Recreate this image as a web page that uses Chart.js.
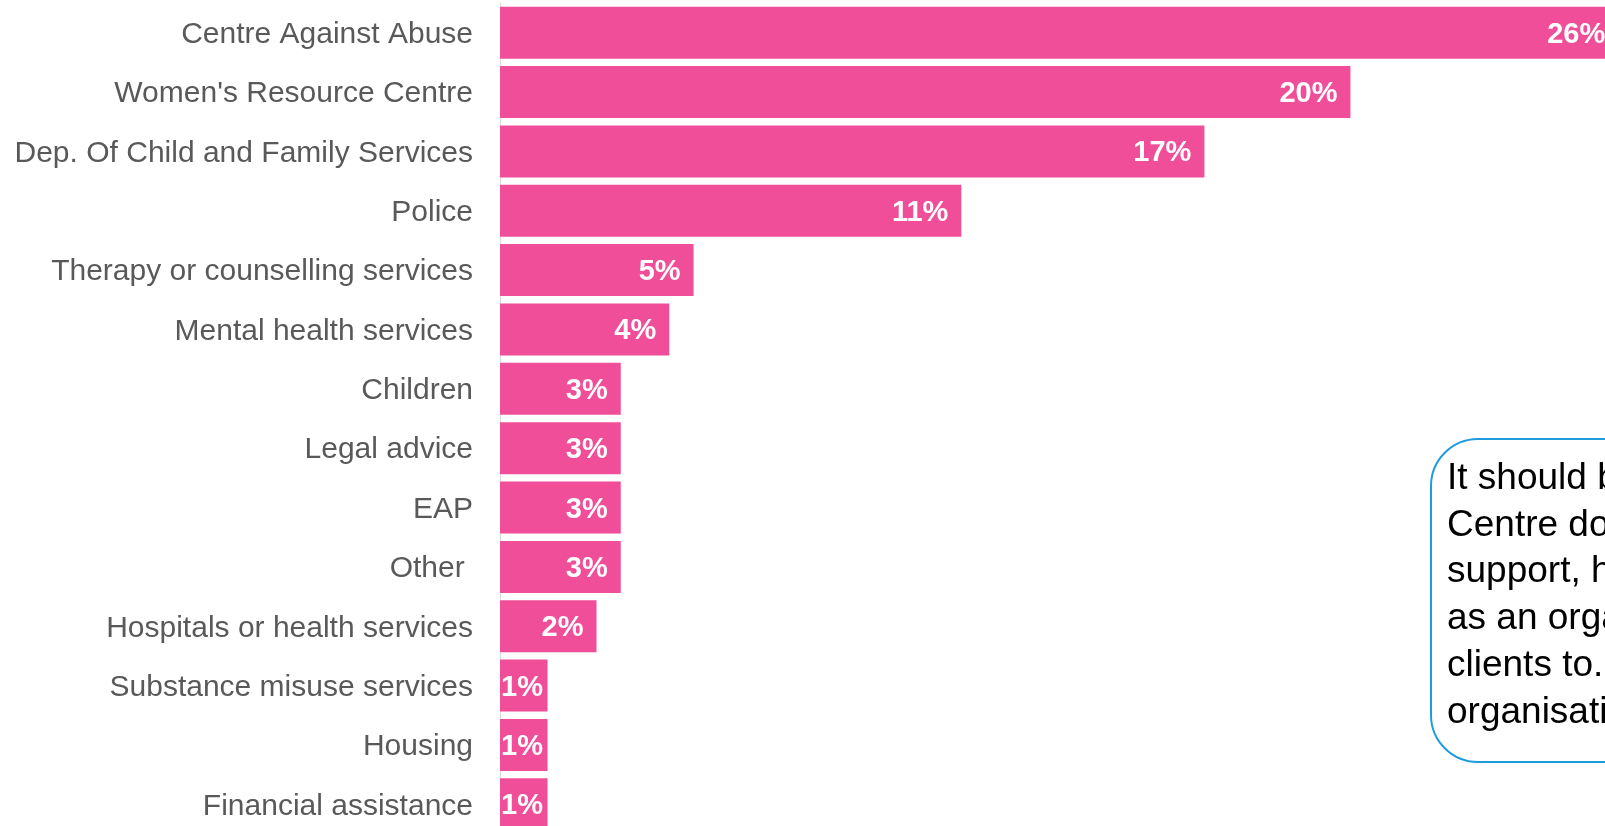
<!DOCTYPE html>
<html>
<head>
<meta charset="utf-8">
<title>Referral organisations</title>
<script src="https://cdn.jsdelivr.net/npm/chart.js@4/dist/chart.umd.min.js"></script>
<style>
    html, body {
        margin: 0;
        padding: 0;
        background: #ffffff;
        overflow: hidden;
    }
    #wrap {
        position: relative;
        width: 1692px;
        height: 834px;
    }
    #nota {
        position: absolute;
        left: 1430px;
        top: 438px;
        width: 330px;
        height: 295px;
        border: 2px solid #1f9bde;
        border-radius: 48px;
        padding: 14px 0 12px 15px;
        font-family: "Liberation Sans", Arial, sans-serif;
        font-size: 37px;
        line-height: 46.7px;
        color: #000000;
        white-space: nowrap;
        background: #ffffff;
    }
</style>
</head>
<body>
<div id="wrap">
    <canvas id="referenciasChart" width="1692" height="834"></canvas>
    <div id="nota">It should be noted that the<br>Centre does not provide<br>support, however it was listed<br>as an organisation they refer<br>clients to.<br>organisations</div>
</div>

<script>
// Organisations and share of respondents (%)
const categorias = [
    'Centre Against Abuse',
    "Women's Resource Centre",
    'Dep. Of Child and Family Services',
    'Police',
    'Therapy or counselling services',
    'Mental health services',
    'Children',
    'Legal advice',
    'EAP',
    'Other ',
    'Hospitals or health services',
    'Substance misuse services',
    'Housing',
    'Financial assistance'
];
const porcentajes = [26.29, 20.0, 16.57, 10.86, 4.57, 4.0, 2.86, 2.86, 2.86, 2.86, 2.29, 1.14, 1.14, 1.14];
const ejeMax = 28;

// Etiquetas blancas dentro de cada barra, pegadas al extremo
const etiquetasBarras = {
    id: 'etiquetasBarras',
    afterDatasetsDraw(chart) {
        const ctx = chart.ctx;
        const meta = chart.getDatasetMeta(0);
        ctx.save();
        ctx.font = 'bold 29px "Liberation Sans", Arial, sans-serif';
        ctx.fillStyle = '#ffffff';
        ctx.textAlign = 'left';
        ctx.textBaseline = 'middle';
        meta.data.forEach(function(bar, i) {
            const texto = Math.round(porcentajes[i]) + '%';
            const ancho = ctx.measureText(texto).width;
            const x = Math.max(bar.x - 14 - ancho, bar.base + 1);
            ctx.fillText(texto, x, bar.y + 2);
        });
        ctx.restore();
    }
};

document.addEventListener('DOMContentLoaded', function() {
    try {
        const ctx = document.getElementById('referenciasChart').getContext('2d');
        new Chart(ctx, {
            type: 'bar',
            data: {
                labels: categorias,
                datasets: [{
                    data: porcentajes,
                    backgroundColor: '#f04e98',
                    borderColor: 'rgba(255, 255, 255, 0.55)',
                    borderWidth: 1,
                    borderSkipped: 'start',
                    barPercentage: 0.91,
                    categoryPercentage: 1.0
                }]
            },
            options: {
                indexAxis: 'y',
                responsive: false,
                animation: false,
                devicePixelRatio: 1,
                layout: {
                    padding: { top: 3, right: 0, bottom: 0, left: 0 }
                },
                plugins: {
                    legend: { display: false },
                    tooltip: { enabled: false }
                },
                scales: {
                    x: {
                        display: false,
                        min: 0,
                        max: ejeMax
                    },
                    y: {
                        afterFit: function(scale) {
                            scale.width = 500; // etiquetas a la izquierda del eje
                            // sin margen extra arriba/abajo por las etiquetas
                            scale.paddingTop = 0;
                            scale.paddingBottom = 0;
                        },
                        grid: {
                            display: true,
                            drawOnChartArea: false,
                            drawTicks: false,
                            color: 'rgba(0, 0, 0, 0)'
                        },
                        border: {
                            display: true,
                            color: '#d6d6d6',
                            width: 1
                        },
                        ticks: {
                            color: '#595959',
                            padding: 27,
                            labelOffset: 2,
                            autoSkip: false,
                            font: {
                                family: '"Liberation Sans", Arial, sans-serif',
                                size: 30
                            }
                        }
                    }
                }
            },
            plugins: [etiquetasBarras]
        });
    } catch (error) {
        console.error('Error al cargar el gráfico:', error);
    }
});
</script>
</body>
</html>
